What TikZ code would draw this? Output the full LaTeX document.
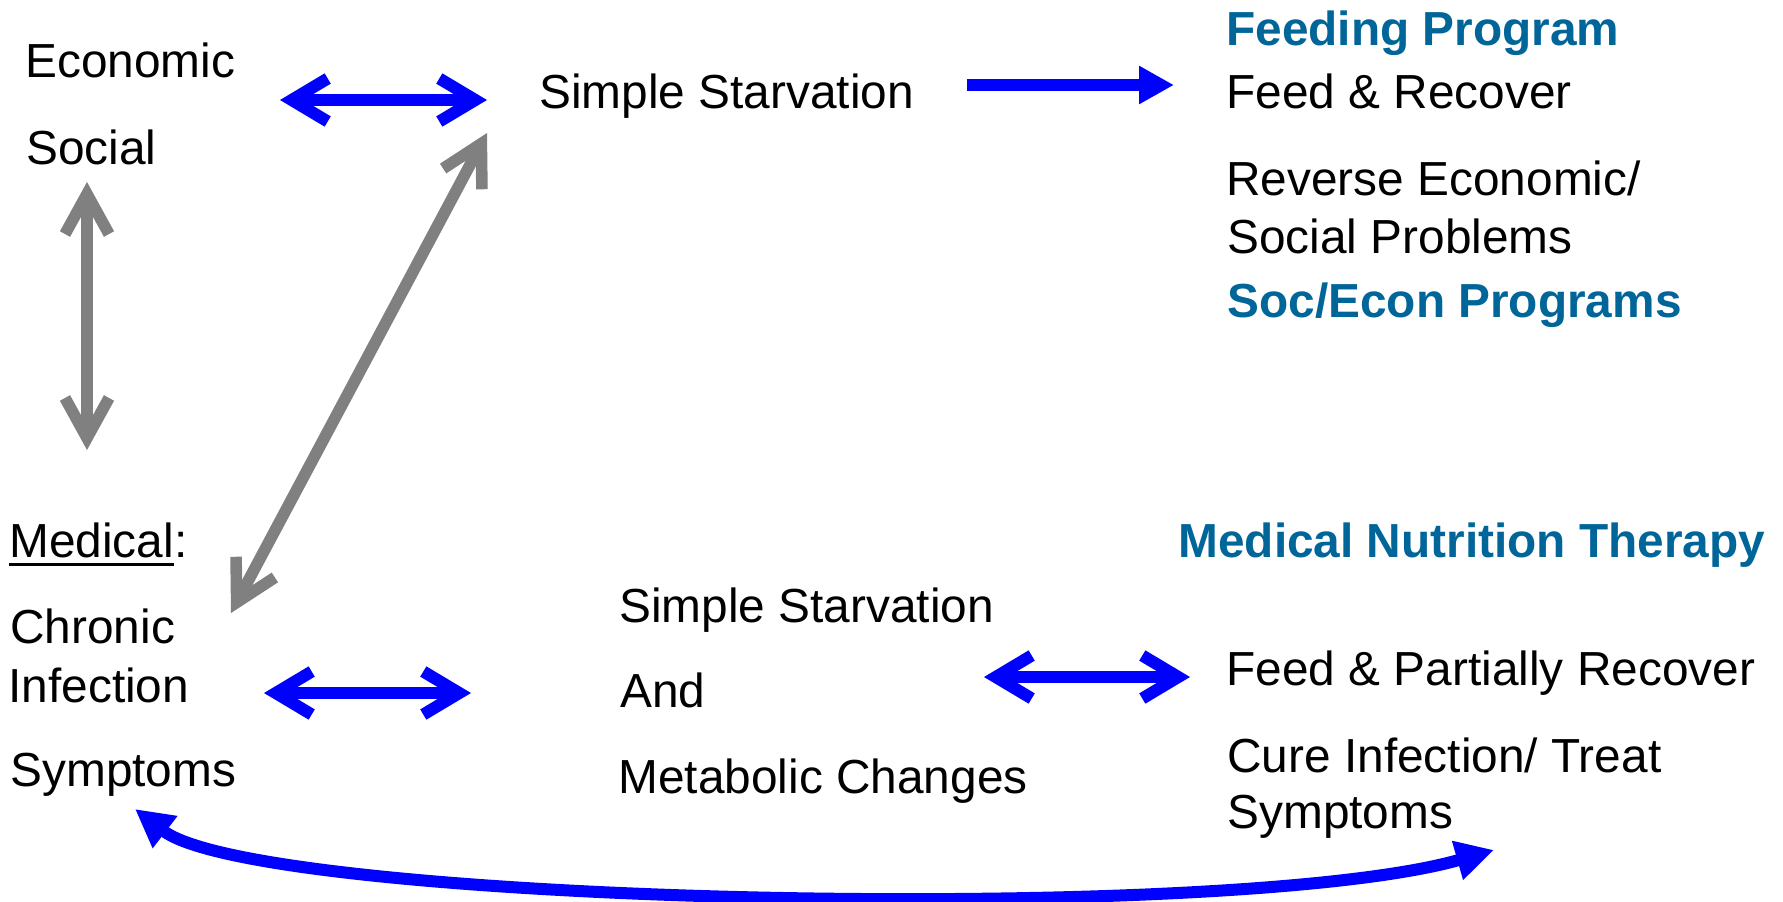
\documentclass[tikz,border=0pt]{standalone}
\usepackage{fontspec}
\setmainfont{Liberation Sans}
\usetikzlibrary{arrows.meta}
\definecolor{hdteal}{RGB}{0,102,153}
\definecolor{arrgray}{RGB}{128,128,128}
\newcommand\myul[1]{\setbox0\hbox{#1}\rlap{\rule[-4.25pt]{\wd0}{1.5pt}}\box0}
\begin{document}
\begin{tikzpicture}[x=0.5pt,y=-0.5pt,
  txt/.style={anchor=base west, inner sep=0pt, font=\fontsize{23.9pt}{28pt}\selectfont},
  hd/.style={anchor=base west, inner sep=0pt, font=\fontsize{23.9pt}{28pt}\selectfont\bfseries, text=hdteal},
  bluedbl/.style={draw=blue, line width=6pt, {Straight Barb[length=18pt,width=21.5pt]}-{Straight Barb[length=18pt,width=21.5pt]}},
  graydbl/.style={draw=arrgray, line width=5.8pt, {Straight Barb[length=20pt,width=22pt]}-{Straight Barb[length=20pt,width=22pt]}},
  blueone/.style={draw=blue, line width=6pt, -{Triangle[length=17.5pt,width=18pt]}},
  bluecurve/.style={draw=blue, line width=6pt, {Triangle[length=19pt,width=19pt]}-{Triangle[length=19pt,width=19pt]}}]
\useasboundingbox (0,0) rectangle (1783,901);
% texts
\node[txt] (econ) at (25,77) {Economic};
\node[txt] (social) at (26,164) {Social};
\node[txt] (ss1) at (539,108) {Simple Starvation};
\node[hd] (fp) at (1226,45) {Feeding Program};
\node[txt] (fr) at (1226,108) {Feed \& Recover};
\node[txt] (rev) at (1226,195) {Reverse Economic/};
\node[txt] (socp) at (1227,253) {Social Problems};
\node[hd] (sep) at (1227,317) {Soc/Econ Programs};
\node[txt] (med) at (9,557) {\myul{Medical}:};
\node[txt] (chr) at (10,643) {Chronic};
\node[txt] (inf) at (8,702) {Infection};
\node[txt] (sym) at (10,786) {Symptoms};
\node[txt] (ss2) at (619,622) {Simple Starvation};
\node[txt] (and) at (620,707) {And};
\node[txt] (meta) at (618,793) {Metabolic Changes};
\node[hd] (mnt) at (1178,557) {Medical Nutrition Therapy};
\node[txt] (fpr) at (1226,685) {Feed \& Partially Recover};
\node[txt] (cure) at (1227,772) {Cure Infection/ Treat};
\node[txt] (sym2) at (1227,828) {Symptoms};
% connector ends
\coordinate (a1l) at (280,100);
\coordinate (a1r) at (487,100);
\coordinate (g1t) at (87,182);
\coordinate (g1b) at (87,450);
\coordinate (g2t) at (487,133);
\coordinate (g2b) at (231,613);
\coordinate (b1s) at (967,85);
\coordinate (b1e) at (1174,85);
\coordinate (a2l) at (264,693);
\coordinate (a2r) at (471,693);
\coordinate (a3l) at (984,677);
\coordinate (a3r) at (1190,677);
\coordinate (cl) at (135,809);
\coordinate (cr) at (1494,850);
% connectors
\draw[bluedbl] (a1l) -- (a1r);
\draw[graydbl] (g1t) -- (g1b);
\draw[graydbl] (g2t) -- (g2b);
\draw[blueone] (b1s) -- (b1e);
\draw[bluedbl] (a2l) -- (a2r);
\draw[bluedbl] (a3l) -- (a3r);
\draw[bluecurve] (cl) .. controls (260,905) and (1230,925) .. (cr);
\end{tikzpicture}
\end{document}
